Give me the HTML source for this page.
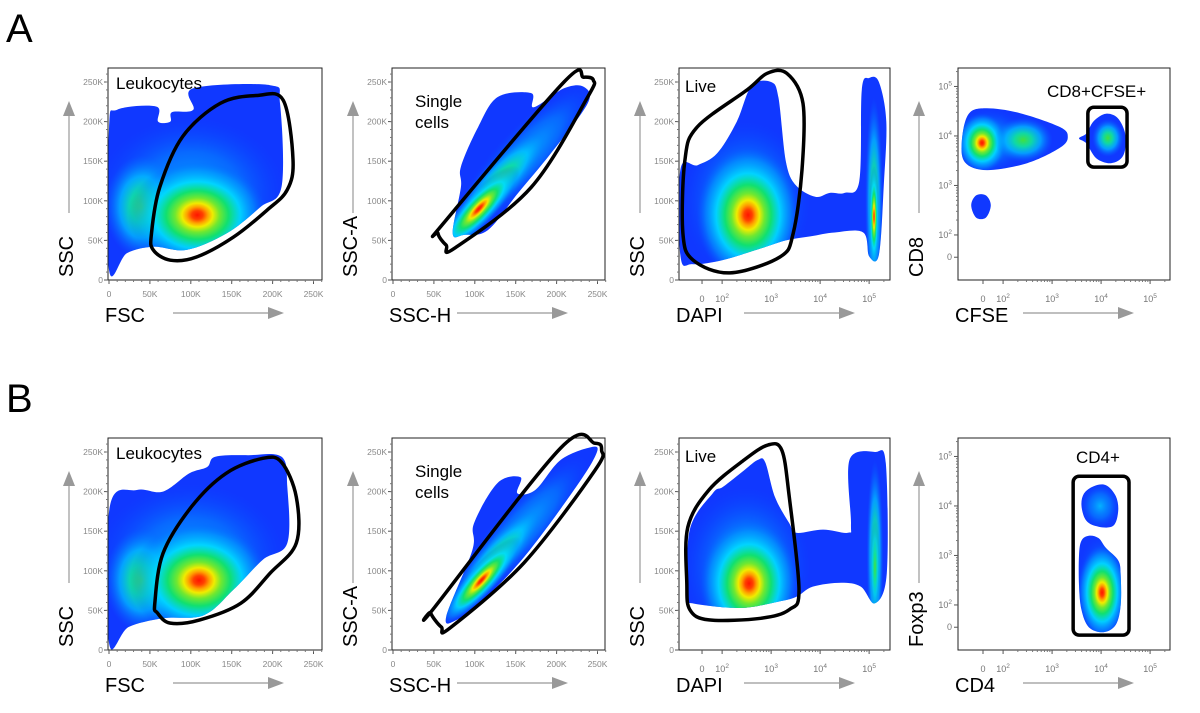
<!DOCTYPE html>
<html><head><meta charset="utf-8"><title>Flow cytometry gating</title>
<style>
html,body{margin:0;padding:0;background:#fff;}
svg{display:block;font-family:"Liberation Sans",Arial,sans-serif;}
</style></head>
<body>
<svg id="fig" width="1200" height="713" viewBox="0 0 1200 713" xmlns="http://www.w3.org/2000/svg">
<defs>
<radialGradient id="g-heat" cx="0.5" cy="0.5" r="0.5">
<stop offset="0" stop-color="#ff1400"/>
<stop offset="0.08" stop-color="#ff4000"/>
<stop offset="0.15" stop-color="#ffa000"/>
<stop offset="0.22" stop-color="#f0ec00"/>
<stop offset="0.32" stop-color="#70e830"/>
<stop offset="0.45" stop-color="#10e070"/>
<stop offset="0.62" stop-color="#00dcff" stop-opacity="0.9"/>
<stop offset="0.82" stop-color="#00a8ff" stop-opacity="0.5"/>
<stop offset="1" stop-color="#0060ff" stop-opacity="0"/>
</radialGradient>
<radialGradient id="g-green" cx="0.5" cy="0.5" r="0.5">
<stop offset="0" stop-color="#40e040"/>
<stop offset="0.3" stop-color="#10e0a0" stop-opacity="0.95"/>
<stop offset="0.6" stop-color="#00c8ff" stop-opacity="0.7"/>
<stop offset="1" stop-color="#0070ff" stop-opacity="0"/>
</radialGradient>
<radialGradient id="g-cyan" cx="0.5" cy="0.5" r="0.5">
<stop offset="0" stop-color="#00c8ff" stop-opacity="0.85"/>
<stop offset="0.55" stop-color="#0098ff" stop-opacity="0.5"/>
<stop offset="1" stop-color="#0050ff" stop-opacity="0"/>
</radialGradient>
</defs>
<text x="6" y="42" font-size="40" fill="#000">A</text>
<text x="6" y="412" font-size="40" fill="#000">B</text>
</svg>
<script>
// ---------- data ----------
const linTickVals = [0, 50, 100, 150, 200, 250];
const linTickLabels = ['0', '50K', '100K', '150K', '200K', '250K'];
const logXTickVals = [1.59, 2, 3, 4, 5];
const logYTickVals = [1.55, 2, 3, 4, 5];
const logTickLabels = ['0', '2', '3', '4', '5'];

const a1Shape = [[0,13],[0,191],[10,215],[58,219],[60,200],[75,200],[77,212],[103,215],[103,242],[197,246],[209,223],[211,118],[185,92],[144,59],[95,38],[54,42],[22,34]];
const a1Gate = [[52,59],[62,117],[90,181],[136,223],[181,233],[213,227],[225,152],[218,114],[193,88],[152,54],[107,29],[75,25],[54,38]];
const a1Blobs = [[100,110,115,95,'cyan',0],[40,92,45,65,'green',0],[108,82,85,68,'heat',0]];

const a2Shape = [[73,59],[83,117],[83,143],[104,193],[128,231],[169,236],[172,218],[209,242],[233,244],[238,223],[193,160],[153,110],[116,63],[87,57]];
const a2Gate = [[55,59],[65,44],[75,40],[169,117],[238,231],[245,252],[233,256],[209,250],[62,72]];
const a2Blobs = [[160,155,118,34,'cyan',-47],[130,125,80,24,'green',-47],[105,90,70,20,'heat',-47]];

const a3Shape = [[1.15,30],[1.15,140],[1.5,145],[1.9,160],[2.3,200],[2.6,245],[3.0,250],[3.15,230],[3.3,150],[3.5,120],[3.9,105],[4.2,110],[4.5,110],[4.8,125],[4.85,240],[5.0,255],[5.2,250],[5.35,200],[5.3,120],[5.2,32],[5.0,30],[4.88,60],[4.3,60],[3.8,55],[3.3,50],[2.8,40],[2.0,25],[1.4,20]];
const a3Gate = [[1.24,151],[1.49,193],[2.51,240],[2.92,261],[3.32,261],[3.65,223],[3.63,139],[3.45,59],[3.18,29],[2.16,9],[1.41,25],[1.2,59]];
const a3Blobs = [[2.5,100,1.3,100,'cyan',0],[2.53,82,1.05,85,'heat',0],[5.1,100,0.18,130,'green',0],[5.1,80,0.1,65,'heat',0]];

const a4Shapes = [
 [[1.16,3.92],[1.3,4.45],[1.67,4.56],[2.35,4.46],[3.16,4.18],[3.32,3.98],[3.16,3.76],[2.49,3.45],[1.67,3.31],[1.22,3.47]],
 [[3.55,3.95],[3.7,4.05],[3.85,4.3],[4.1,4.45],[4.35,4.35],[4.5,4.0],[4.45,3.6],[4.2,3.45],[3.9,3.55],[3.7,3.85]],
 [[1.35,2.6],[1.45,2.8],[1.65,2.8],[1.75,2.6],[1.65,2.35],[1.45,2.35]]
];
const a4Gate = [3.73, 4.53, 3.37, 4.58];
const a4Blobs = [[1.7,3.9,0.8,0.65,'cyan',0],[1.57,3.86,0.5,0.6,'heat',0],[2.41,3.92,0.6,0.45,'green',0],[4.14,3.96,0.32,0.38,'green',0]];

const b1Shape = [[0,9],[1,181],[34,202],[66,200],[98,223],[120,231],[130,244],[170,246],[211,244],[218,206],[218,135],[188,114],[152,76],[116,44],[66,40],[24,29]];
const b1Gate = [[56,59],[66,122],[101,181],[143,223],[188,242],[211,237],[229,193],[229,135],[197,97],[161,59],[111,38],[75,34],[59,47]];
const b1Blobs = [[100,115,115,95,'cyan',0],[40,88,45,65,'green',0],[110,88,85,72,'heat',0]];

const b2Shape = [[65,42],[97,126],[99,160],[128,211],[156,218],[152,198],[174,202],[205,240],[242,256],[249,249],[224,206],[160,117],[106,59],[78,38]];
const b2Gate = [[46,47],[59,29],[70,28],[160,110],[247,227],[255,252],[247,261],[205,255],[51,54]];
const b2Blobs = [[155,150,120,32,'cyan',-48],[125,115,80,22,'green',-48],[108,88,70,18,'heat',-48]];

const b3Shape = [[1.3,67],[1.34,152],[1.81,198],[2.02,206],[2.45,227],[2.73,240],[2.88,237],[3.08,193],[3.37,160],[3.51,148],[4.06,152],[4.57,148],[4.63,160],[4.6,240],[5.12,250],[5.34,236],[5.36,97],[5.12,59],[4.83,80],[4.43,85],[3.85,80],[3.51,67],[3.14,61],[2.36,53],[1.39,59]];
const b3Gate = [[1.3,155],[1.73,202],[2.45,240],[2.94,259],[3.22,252],[3.37,193],[3.57,76],[3.37,51],[2.79,40],[1.73,38],[1.34,51],[1.28,85]];
const b3Blobs = [[2.5,105,1.3,100,'cyan',0],[2.55,84,1.0,80,'heat',0],[5.12,120,0.17,120,'green',0],[5.12,105,0.1,60,'green',0]];

const b4Shapes = [
 [[3.6,4.0],[3.65,4.25],[3.85,4.4],[4.1,4.42],[4.3,4.2],[4.35,3.9],[4.25,3.6],[3.95,3.58],[3.7,3.7]],
 [[3.55,3.0],[3.6,3.3],[3.75,3.4],[3.95,3.35],[4.1,3.15],[4.35,2.9],[4.4,2.6],[4.4,2.0],[4.3,1.6],[4.05,1.45],[3.75,1.55],[3.6,1.9],[3.55,2.4]]
];
const b4Gate = [3.43, 4.57, 1.39, 4.6];
const b4Blobs = [[3.98,4.0,0.4,0.45,'cyan',0],[4.0,2.4,0.5,1.0,'cyan',0],[4.02,2.25,0.5,0.95,'heat',0]];

// ---------- layout ----------
const NS = 'http://www.w3.org/2000/svg';
const svg = document.getElementById('fig');
const panels = [
 {id:'a1',kind:'lin',left:108,top:68,w:214,shapes:[a1Shape],gate:a1Gate,blobs:a1Blobs,xl:'FSC',yl:'SSC',title:['Leukocytes'],tx:116,ty:89},
 {id:'a2',kind:'lin',left:392,top:68,w:213,shapes:[a2Shape],gate:a2Gate,blobs:a2Blobs,xl:'SSC-H',yl:'SSC-A',title:['Single','cells'],tx:415,ty:107},
 {id:'a3',kind:'logx',left:679,top:68,w:211,uL:1.12,shapes:[a3Shape],gate:a3Gate,blobs:a3Blobs,xl:'DAPI',yl:'SSC',title:['Live'],tx:685,ty:92},
 {id:'a4',kind:'logxy',left:958,top:68,w:212,uL:1.08,shapes:a4Shapes,rect:a4Gate,blobs:a4Blobs,xl:'CFSE',yl:'CD8',title:['CD8+CFSE+'],tx:1047,ty:97},
 {id:'b1',kind:'lin',left:108,top:438,w:214,shapes:[b1Shape],gate:b1Gate,blobs:b1Blobs,xl:'FSC',yl:'SSC',title:['Leukocytes'],tx:116,ty:459},
 {id:'b2',kind:'lin',left:392,top:438,w:213,shapes:[b2Shape],gate:b2Gate,blobs:b2Blobs,xl:'SSC-H',yl:'SSC-A',title:['Single','cells'],tx:415,ty:477},
 {id:'b3',kind:'logx',left:679,top:438,w:211,uL:1.12,shapes:[b3Shape],gate:b3Gate,blobs:b3Blobs,xl:'DAPI',yl:'SSC',title:['Live'],tx:685,ty:462},
 {id:'b4',kind:'logxy',left:958,top:438,w:212,uL:1.08,shapes:b4Shapes,rect:b4Gate,blobs:b4Blobs,xl:'CD4',yl:'Foxp3',title:['CD4+'],tx:1076,ty:463}
];
const H = 212;

function sx(p, v){ return p.kind==='lin' ? p.left + 1 + v*0.818 : p.left + (v - p.uL)*49; }
function sy(p, v){ const b = p.top + H; return p.kind==='logxy' ? b - (v - 1.09)*49.5 : b - v*0.792; }

function el(tag, attrs, parent){
  const e = document.createElementNS(NS, tag);
  for (const k in attrs) e.setAttribute(k, attrs[k]);
  (parent||svg).appendChild(e);
  return e;
}
function smooth(pts){
  const n = pts.length; let d = 'M' + pts[0][0].toFixed(1) + ',' + pts[0][1].toFixed(1);
  for (let i=0;i<n;i++){
    const p0=pts[(i-1+n)%n], p1=pts[i], p2=pts[(i+1)%n], p3=pts[(i+2)%n];
    const c1=[p1[0]+(p2[0]-p0[0])/6, p1[1]+(p2[1]-p0[1])/6];
    const c2=[p2[0]-(p3[0]-p1[0])/6, p2[1]-(p3[1]-p1[1])/6];
    d += 'C'+c1[0].toFixed(1)+','+c1[1].toFixed(1)+' '+c2[0].toFixed(1)+','+c2[1].toFixed(1)+' '+p2[0].toFixed(1)+','+p2[1].toFixed(1);
  }
  return d + 'Z';
}
function supLabel(g, x, y, lab, anchor){
  const t = el('text', {x:x, y:y, 'font-size':9, fill:'#777', 'text-anchor':anchor}, g);
  if (lab === '0') { t.textContent = '0'; }
  else {
    const a = el('tspan', {}, t); a.textContent = '10';
    const b = el('tspan', {'font-size':6.5, dy:-4}, t); b.textContent = lab;
  }
  return t;
}

panels.forEach(p => {
  const g = el('g', {});
  
  
  const L = p.left, T = p.top, B = p.top + H, R = p.left + p.w;

  const cp = el('clipPath', {id:'clip-' + p.id}, g);
  p.shapes.forEach(s => { el('path', {d: smooth(s.map(q => [sx(p,q[0]), sy(p,q[1])]))}, cp); });
  const dens = el('g', {'clip-path':'url(#clip-' + p.id + ')'}, g);
  
  
  el('rect', {x:L, y:T, width:p.w, height:H, fill:'#1038ff'}, dens);
  p.blobs.forEach(bl => {
    const cx = sx(p, bl[0]), cy = sy(p, bl[1]);
    let rx, ry;
    if (bl[5] !== 0) { rx = bl[2]*0.818; ry = bl[3]*0.818; }
    else { rx = Math.abs(sx(p, bl[0]+bl[2]) - cx); ry = Math.abs(sy(p, bl[1]+bl[3]) - cy); }
    const e = el('ellipse', {cx:cx, cy:cy, rx:rx, ry:ry, fill:'url(#g-' + bl[4] + ')', transform:'rotate(' + bl[5] + ' ' + cx + ' ' + cy + ')'}, dens);
    
    
  });

  const fr = el('rect', {x:L, y:T, width:p.w, height:H, fill:'none', stroke:'#222', 'stroke-width':1}, g);
  
  

  if (p.gate) {
    const gp = el('path', {d: smooth(p.gate.map(q => [sx(p,q[0]), sy(p,q[1])])), fill:'none', stroke:'#000', 'stroke-width':3.5}, g);
    
    
  } else {
    const x1 = sx(p, p.rect[0]), x2 = sx(p, p.rect[1]), y1 = sy(p, p.rect[3]), y2 = sy(p, p.rect[2]);
    const gr = el('rect', {x:x1, y:y1, width:x2-x1, height:y2-y1, rx:6, fill:'none', stroke:'#000', 'stroke-width':3.5}, g);
    
    
  }

  const ax = el('g', {}, g);
  
  
  if (p.kind === 'lin') {
    linTickVals.forEach((v, i) => {
      const x = sx(p, v), y = sy(p, v);
      el('line', {x1:x, y1:B, x2:x, y2:B+4, stroke:'#555'}, ax);
      el('line', {x1:L-4, y1:y, x2:L, y2:y, stroke:'#555'}, ax);
      const tx = el('text', {x:x, y:B+17, 'font-size':8.5, fill:'#888', 'text-anchor':'middle'}, ax);
      tx.textContent = linTickLabels[i];
      
      
      const ty = el('text', {x:L-5, y:y+3, 'font-size':8.5, fill:'#888', 'text-anchor':'end'}, ax);
      ty.textContent = linTickLabels[i];
      
      
    });
    for (let v = 10; v < 262; v += 10) {
      el('line', {x1:sx(p,v), y1:B, x2:sx(p,v), y2:B+2, stroke:'#777'}, ax);
      el('line', {x1:L-2, y1:sy(p,v), x2:L, y2:sy(p,v), stroke:'#777'}, ax);
    }
  } else {
    logXTickVals.forEach((v, i) => {
      const x = sx(p, v);
      el('line', {x1:x, y1:B, x2:x, y2:B+4, stroke:'#555'}, ax);
      const t = supLabel(ax, x, B+22, logTickLabels[i], 'middle');
      
      
    });
    for (let d = 2; d < 6; d++) for (let m = 2; m < 10; m++) {
      const x = sx(p, d + Math.log10(m));
      if (x < R) el('line', {x1:x, y1:B, x2:x, y2:B+2, stroke:'#777'}, ax);
    }
    if (p.kind === 'logxy') {
      logYTickVals.forEach((v, i) => {
        const y = sy(p, v);
        el('line', {x1:L-4, y1:y, x2:L, y2:y, stroke:'#555'}, ax);
        const t = supLabel(ax, L-6, y+3, logTickLabels[i], 'end');
        
        
      });
      for (let d = 2; d < 6; d++) for (let m = 2; m < 10; m++) {
        const y = sy(p, d + Math.log10(m));
        if (y > T) el('line', {x1:L-2, y1:y, x2:L, y2:y, stroke:'#777'}, ax);
      }
    } else {
      linTickVals.forEach((v, i) => {
        const y = sy(p, v);
        el('line', {x1:L-4, y1:y, x2:L, y2:y, stroke:'#555'}, ax);
        const ty = el('text', {x:L-5, y:y+3, 'font-size':8.5, fill:'#888', 'text-anchor':'end'}, ax);
        ty.textContent = linTickLabels[i];
        
        
      });
      for (let v = 10; v < 262; v += 10) el('line', {x1:L-2, y1:sy(p,v), x2:L, y2:sy(p,v), stroke:'#777'}, ax);
    }
  }

  const xt = el('text', {x:L-3, y:B+42, 'font-size':20, fill:'#000'}, g);
  xt.textContent = p.xl;
  
  
  const yt = el('text', {x:0, y:0, 'font-size':20, fill:'#000', transform:'translate(' + (L-35) + ',' + (B-3) + ') rotate(-90)'}, g);
  yt.textContent = p.yl;
  
  
  const xa = el('g', {}, g);
  
  
  el('line', {x1:L+65, y1:B+33, x2:L+162, y2:B+33, stroke:'#999', 'stroke-width':1.2}, xa);
  el('polygon', {points:(L+160)+','+(B+27)+' '+(L+176)+','+(B+33)+' '+(L+160)+','+(B+39), fill:'#999'}, xa);
  const ya = el('g', {}, g);
  
  
  const axx = L - 39;
  el('line', {x1:axx, y1:B-67, x2:axx, y2:T+46, stroke:'#999', 'stroke-width':1.2}, ya);
  el('polygon', {points:(axx-6)+','+(T+48)+' '+axx+','+(T+33)+' '+(axx+6)+','+(T+48), fill:'#999'}, ya);

  p.title.forEach((s, i) => {
    const t = el('text', {x:p.tx, y:p.ty + i*21, 'font-size':17, fill:'#000'}, g);
    t.textContent = s;
    
    
  });
});
</script>
</body></html>
